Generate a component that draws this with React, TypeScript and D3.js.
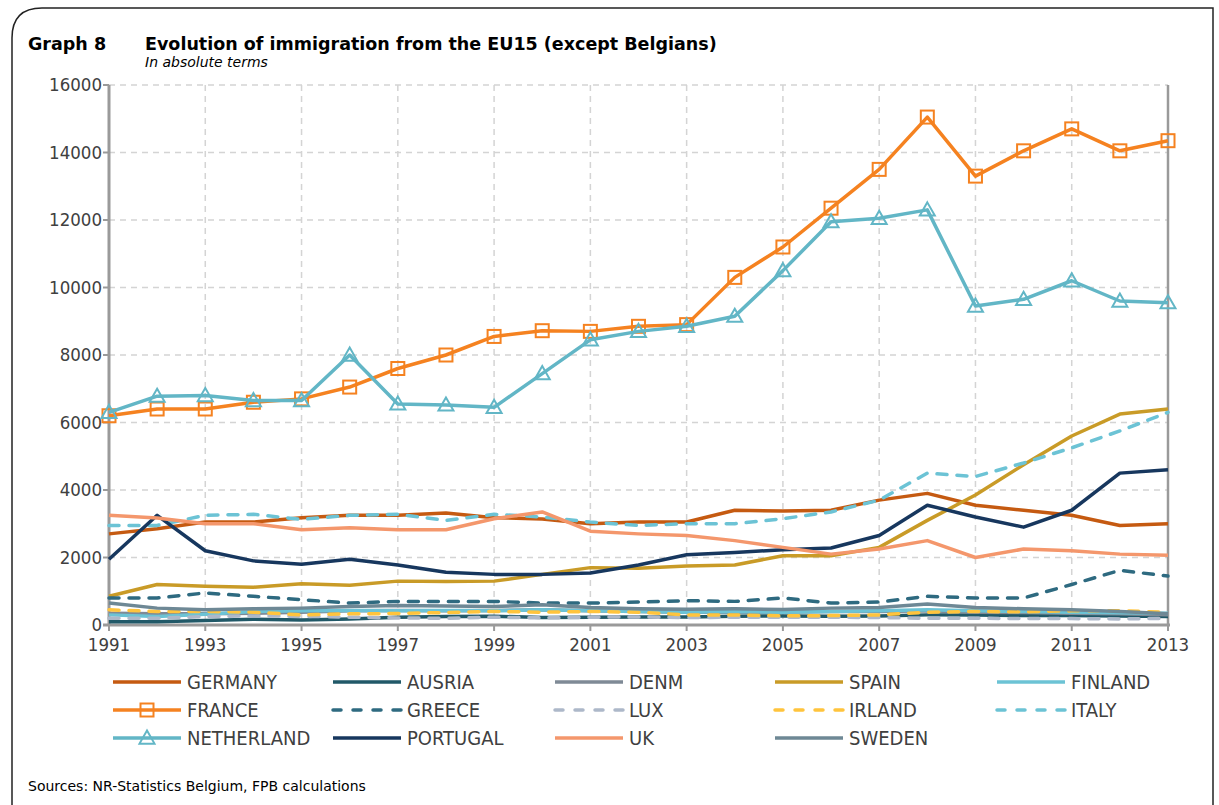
import React from "react";
import * as d3 from "d3";

const years = d3.range(1991, 2014);
const yTicks = [0, 2000, 4000, 6000, 8000, 10000, 12000, 14000, 16000];
const xTickYears = [1991, 1993, 1995, 1997, 1999, 2001, 2003, 2005, 2007, 2009, 2011, 2013];

const germany = [2700, 2850, 3050, 3050, 3180, 3250, 3250, 3320, 3180, 3140, 3000, 3050, 3050, 3400, 3380, 3400, 3700, 3900, 3550, 3400, 3250, 2950, 3000];
const austria = [100, 100, 130, 170, 150, 180, 230, 250, 260, 220, 230, 240, 240, 260, 270, 260, 270, 300, 300, 280, 280, 270, 250];
const denm = [350, 330, 330, 350, 380, 420, 430, 420, 430, 450, 420, 400, 380, 380, 380, 400, 400, 420, 380, 370, 350, 330, 300];
const spain = [850, 1200, 1150, 1120, 1220, 1180, 1300, 1290, 1300, 1500, 1700, 1680, 1750, 1780, 2050, 2050, 2300, 3100, 3850, 4750, 5600, 6250, 6400];
const finland = [300, 250, 320, 400, 420, 430, 420, 430, 420, 450, 420, 400, 380, 400, 380, 400, 420, 450, 420, 400, 380, 360, 350];
const france = [6200, 6400, 6400, 6600, 6700, 7050, 7600, 8000, 8550, 8720, 8700, 8850, 8900, 10300, 11200, 12350, 13500, 15050, 13300, 14050, 14700, 14050, 14350];
const greece = [800, 800, 950, 850, 750, 650, 700, 700, 700, 650, 650, 680, 720, 700, 800, 650, 680, 850, 800, 800, 1200, 1620, 1450];
const lux = [200, 200, 250, 270, 260, 230, 210, 200, 230, 210, 230, 240, 220, 230, 230, 230, 220, 200, 200, 190, 190, 180, 200];
const irland = [450, 400, 400, 380, 300, 330, 340, 370, 400, 380, 400, 380, 300, 300, 270, 280, 300, 380, 400, 390, 420, 420, 380];
const italy = [2950, 2950, 3250, 3280, 3130, 3250, 3280, 3100, 3280, 3200, 3050, 2950, 3000, 3000, 3150, 3350, 3700, 4500, 4400, 4800, 5250, 5750, 6300];
const netherland = [6300, 6780, 6800, 6650, 6650, 8000, 6550, 6520, 6450, 7450, 8450, 8700, 8850, 9150, 10500, 11950, 12050, 12300, 9450, 9650, 10200, 9600, 9550];
const portugal = [1950, 3250, 2200, 1900, 1800, 1950, 1780, 1560, 1500, 1500, 1540, 1780, 2080, 2150, 2230, 2280, 2650, 3550, 3200, 2900, 3400, 4500, 4600];
const uk = [3250, 3170, 3000, 3000, 2820, 2880, 2820, 2820, 3150, 3350, 2780, 2700, 2650, 2500, 2300, 2100, 2250, 2500, 2000, 2250, 2200, 2100, 2070];
const sweden = [650, 500, 450, 480, 500, 550, 580, 560, 550, 600, 520, 480, 470, 480, 460, 500, 520, 620, 520, 480, 450, 400, 330];

type S = { name: string; values: number[]; color: string; dash?: string; marker?: "square" | "triangle" };

const series: S[] = [
  { name: "GERMANY", values: germany, color: "#c55a11" },
  { name: "AUSRIA", values: austria, color: "#215968" },
  { name: "DENM", values: denm, color: "#7f8a96" },
  { name: "SPAIN", values: spain, color: "#c99b27" },
  { name: "FINLAND", values: finland, color: "#6cc3d5" },
  { name: "FRANCE", values: france, color: "#f58220", marker: "square" },
  { name: "GREECE", values: greece, color: "#2e6a80", dash: "10,10" },
  { name: "LUX", values: lux, color: "#adb8c9", dash: "10,10" },
  { name: "IRLAND", values: irland, color: "#ffc43d", dash: "10,10" },
  { name: "ITALY", values: italy, color: "#6cc3d5", dash: "10,10" },
  { name: "NETHERLAND", values: netherland, color: "#62b6c6", marker: "triangle" },
  { name: "PORTUGAL", values: portugal, color: "#17375e" },
  { name: "UK", values: uk, color: "#f4976c" },
  { name: "SWEDEN", values: sweden, color: "#6e8895" },
];

const W = 1219;
const H = 805;
const x = d3.scaleLinear().domain([1991, 2013]).range([109, 1168]);
const y = d3.scaleLinear().domain([0, 16000]).range([625, 85]);
const narrow = "'Liberation Sans Narrow', 'DejaVu Sans Condensed', Lato, sans-serif";
const titleFont = "'DejaVu Sans', Verdana, sans-serif";

function Marker({ kind, cx, cy, color }: { kind: string; cx: number; cy: number; color: string }) {
  if (kind === "square") {
    return <rect x={cx - 6.5} y={cy - 6.5} width={13} height={13} fill="none" stroke={color} strokeWidth={2} />;
  }
  const s = 7.5;
  return (
    <path
      d={`M${cx},${cy - s}L${cx + s},${cy + s * 0.75}L${cx - s},${cy + s * 0.75}Z`}
      fill="none"
      stroke={color}
      strokeWidth={2}
    />
  );
}

export default function App() {
  const line = d3
    .line<number>()
    .x((_, i) => x(years[i]))
    .y((v) => y(v));
  const legendCols = [113, 333, 555, 775, 997];
  const legendRows = [682, 710, 738];
  return (
    <svg width={W} height={H} style={{ display: "block", position: "absolute", left: 0, top: 0 }}>
      <rect x={0} y={0} width={W} height={H} fill="#fff" />
      <path d="M12,805 L12,38 Q12,8 42,8 L1213,8 L1213,805" fill="none" stroke="#222" strokeWidth={1.5} />
      <text x={28} y={50} fontFamily={titleFont} fontWeight="bold" fontSize={17.5} fill="#000">
        Graph 8
      </text>
      <text x={145} y={50} fontFamily={titleFont} fontWeight="bold" fontSize={17.5} fill="#000">
        Evolution of immigration from the EU15 (except Belgians)
      </text>
      <text x={145} y={67} fontFamily={titleFont} fontStyle="italic" fontSize={14} fill="#000">
        In absolute terms
      </text>
      {/* grid */}
      {yTicks.slice(1).map((t) => (
        <line key={"gy" + t} x1={109} x2={1168} y1={y(t)} y2={y(t)} stroke="#d4d4d4" strokeWidth={1.5} strokeDasharray="6,5" />
      ))}
      {xTickYears.slice(1, -1).map((t) => (
        <line key={"gx" + t} x1={x(t)} x2={x(t)} y1={85} y2={625} stroke="#d4d4d4" strokeWidth={1.5} strokeDasharray="6,5" />
      ))}
      {/* axes */}
      <line x1={109} x2={109} y1={85} y2={626} stroke="#9a9a9a" strokeWidth={3} />
      <line x1={1168} x2={1168} y1={85} y2={626} stroke="#9a9a9a" strokeWidth={2.5} />
      {yTicks.map((t) => (
        <g key={"yt" + t}>
          <line x1={103} x2={109} y1={y(t)} y2={y(t)} stroke="#9a9a9a" strokeWidth={2} />
          <text x={102} y={y(t) + 6} textAnchor="end" fontFamily={narrow} fontSize={18.5} fill="#404040">
            {t}
          </text>
        </g>
      ))}
      <line x1={103} x2={1170} y1={625} y2={625} stroke="#9a9a9a" strokeWidth={3} />
      {xTickYears.map((t) => (
        <g key={"xt" + t}>
          <line x1={x(t)} x2={x(t)} y1={625} y2={631} stroke="#9a9a9a" strokeWidth={2} />
          <text x={x(t)} y={651} textAnchor="middle" fontFamily={narrow} fontSize={18.5} fill="#404040">
            {t}
          </text>
        </g>
      ))}
      {/* series */}
      {series.map((s) => (
        <g key={s.name}>
          <path
            d={line(s.values) || ""}
            fill="none"
            stroke={s.color}
            strokeWidth={3.5}
            strokeDasharray={s.dash}
            strokeLinecap={s.dash ? "round" : "butt"}
            strokeLinejoin="round"
          />
          {s.marker &&
            s.values.map((v, i) => <Marker key={i} kind={s.marker!} cx={x(years[i])} cy={y(v)} color={s.color} />)}
        </g>
      ))}
      {/* legend */}
      {series.map((s, i) => {
        const lx = legendCols[i % 5];
        const ly = legendRows[Math.floor(i / 5)];
        return (
          <g key={"lg" + s.name}>
            <line
              x1={lx}
              x2={lx + 68}
              y1={ly}
              y2={ly}
              stroke={s.color}
              strokeWidth={3.5}
              strokeDasharray={s.dash ? "8,12" : undefined}
              strokeLinecap={s.dash ? "round" : "butt"}
            />
            {s.marker && <Marker kind={s.marker} cx={lx + 34} cy={ly} color={s.color} />}
            <text x={lx + 74} y={ly + 7} fontFamily={narrow} fontSize={20} fill="#404040">
              {s.name}
            </text>
          </g>
        );
      })}
      <text x={28} y={791} fontFamily={titleFont} fontSize={14} fill="#000">
        Sources: NR-Statistics Belgium, FPB calculations
      </text>
    </svg>
  );
}
